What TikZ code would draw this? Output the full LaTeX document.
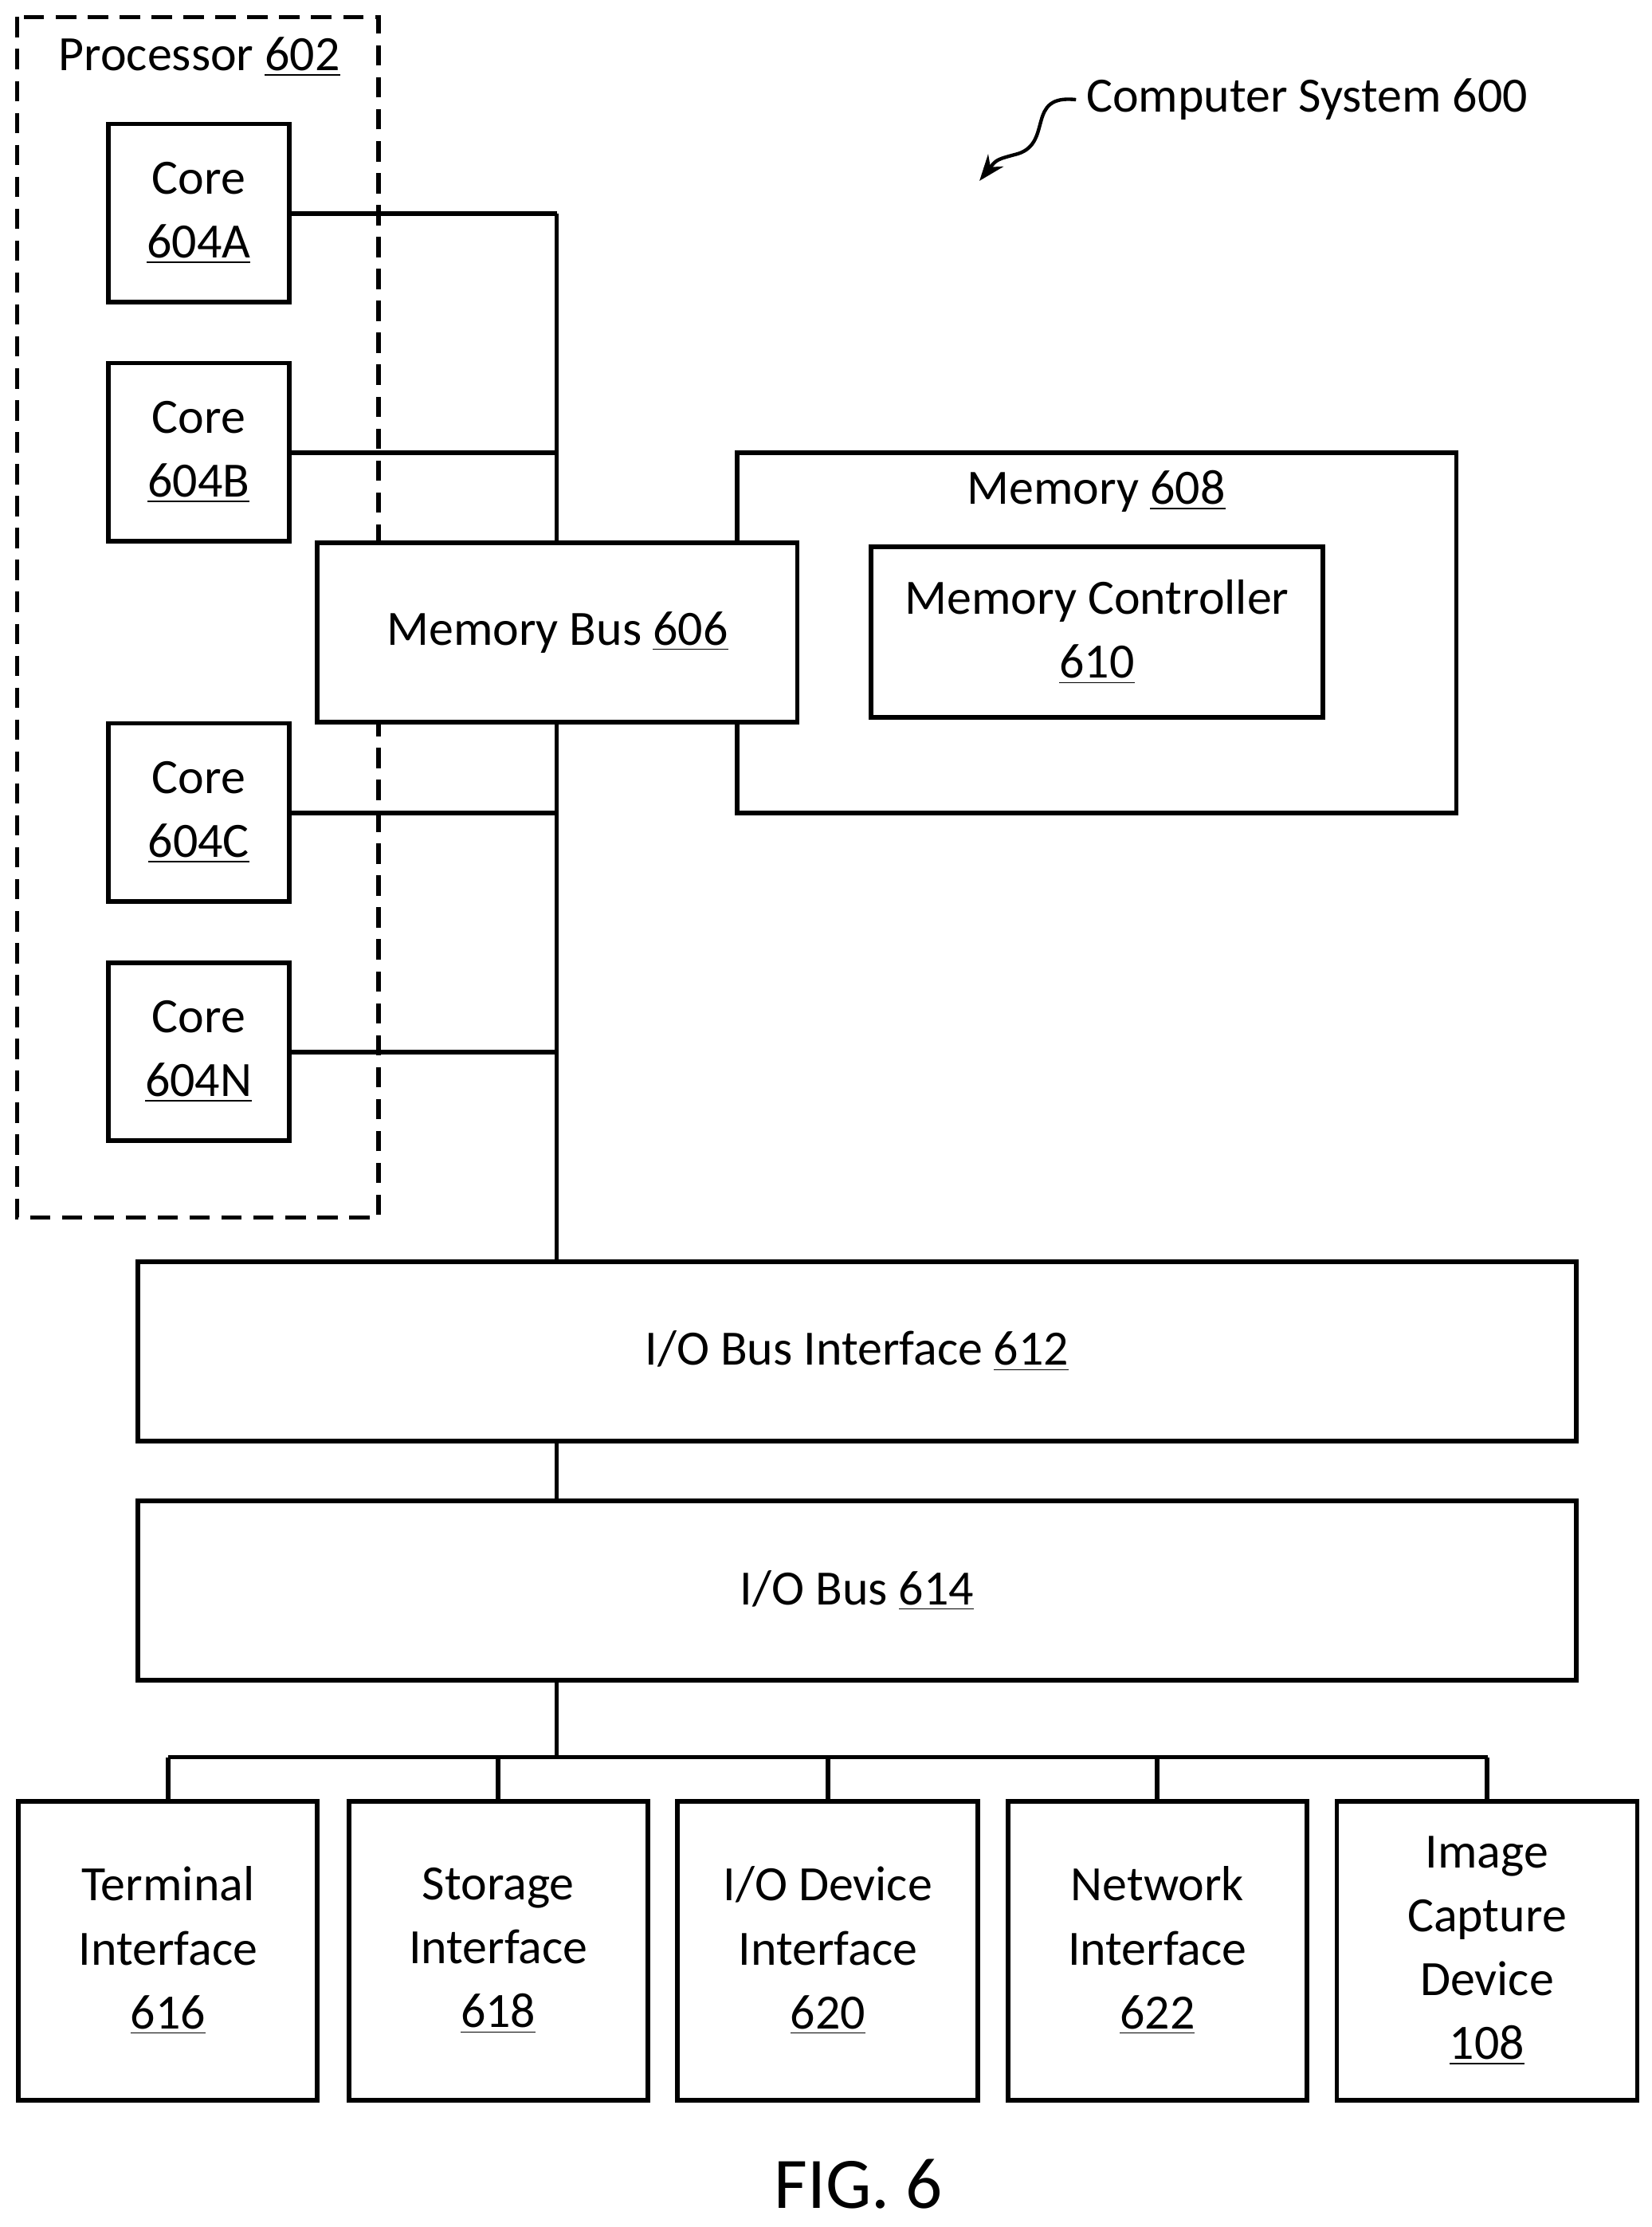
\documentclass[tikz,border=0pt]{standalone}
\usepackage{fontspec}
\setmainfont{Carlito}
\usetikzlibrary{arrows.meta,calc}
\tikzset{
  blk/.style={draw,line width=1.6pt,fill=white,align=center,inner sep=0pt,font=\fontsize{17}{21}\selectfont},
  wire/.style={line width=1.6pt}
}
\newcommand{\bx}[5]{\node[blk,minimum width={(#4-#2)*0.01724cm},minimum height={(#5-#3)*0.01724cm}] (#1) at ({(#2+#4)/2},{(#3+#5)/2})}
\begin{document}
\begin{tikzpicture}[x=0.01724cm,y=-0.01724cm]
      \useasboundingbox (0,0) rectangle (1160,1564);
      
      %processor
      \draw[dash pattern=on 7pt off 4pt,line width=1.6pt] (12,12) rectangle (266,855);
      \node[font=\fontsize{17}{21}\selectfont] (proc) at (140,40) {Processor \underline{602}};
      \node[font=\fontsize{17}{21}\selectfont] (sys) at (918,70) {Computer System 600};
      \draw[line width=1.2pt,-{Stealth[length=9pt]}] (sys.west) .. controls (720,66) and (740,100) .. (715,108) .. controls (700,112) .. (688,127);
      
      %bus lines
      \coordinate (top) at (391,150);
      \coordinate (bot) at (391,885);
      \draw[wire] (top) -- (bot);
      \foreach \n/\y in {A/150,B/318,C/571,N/739} {
      	\draw[wire] (203,\y) -- (391,\y);
      }
      \foreach \n/\y in {A/87,B/255,C/508,N/676} {
      	\bx{core\n}{76}{\y}{203}{\y+125} {Core\\[1pt]\underline{604\n}};
      }
      
      %memory
      \draw[line width=1.6pt] (518,318) rectangle (1023,571);
      \node[font=\fontsize{17}{21}\selectfont] (mem) at (770,345) {Memory \underline{608}};
      \bx{memctl}{612}{384}{929}{504} {Memory Controller\\[1pt]\underline{610}};
      \bx{membus}{223}{381}{560}{507} {Memory Bus \underline{606}};
      
      %io
      \bx{iobi}{97}{886}{1107}{1012} {I/O Bus Interface \underline{612}};
      \bx{iobus}{97}{1054}{1107}{1180} {I/O Bus \underline{614}};
      \draw[wire] (iobi.south -| bot) -- (iobus.north -| bot);
      \coordinate (split) at (391,1234);
      \draw[wire] (iobus.south -| bot) -- (split);
      \draw[wire] (118,1234) -- (1045,1234);
      
      \bx{term}{13}{1265}{223}{1475} {Terminal\\[1pt]Interface\\[1pt]\underline{616}};
      \bx{stor}{245}{1265}{455}{1475} {Storage\\[1pt]Interface\\[1pt]\underline{618}};
      \bx{iodev}{476}{1265}{687}{1475} {I/O Device\\[1pt]Interface\\[1pt]\underline{620}};
      \bx{net}{708}{1265}{918}{1475} {Network\\[1pt]Interface\\[1pt]\underline{622}};
      \bx{cam}{939}{1265}{1150}{1475} {Image\\[1pt]Capture\\[1pt]Device\\[1pt]\underline{108}};
      \foreach \b in {term,stor,iodev,net,cam} {
      	\draw[wire] (\b.north) -- (\b.north |- split);
      }
      
      \node[font=\fontsize{25}{30}\selectfont] (fig) at (603,1534) {FIG. 6};
\end{tikzpicture}
\end{document}
